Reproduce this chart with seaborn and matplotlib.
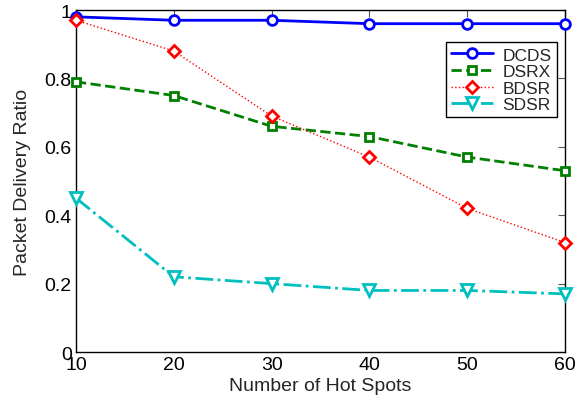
import matplotlib
matplotlib.use("Agg")
import matplotlib.pyplot as plt
import seaborn as sns
import pandas as pd

hot_spots = [10, 20, 30, 40, 50, 60]
dcds = [0.98, 0.97, 0.97, 0.96, 0.96, 0.96]
dsrx = [0.79, 0.75, 0.66, 0.63, 0.57, 0.53]
bdsr = [0.97, 0.88, 0.69, 0.57, 0.42, 0.32]
sdsr = [0.45, 0.22, 0.20, 0.18, 0.18, 0.17]
series_names = ["DCDS", "DSRX", "BDSR", "SDSR"]
x_ticks = [10, 20, 30, 40, 50, 60]
y_ticks = [0, 0.2, 0.4, 0.6, 0.8, 1]
y_tick_labels = ["0", "0.2", "0.4", "0.6", "0.8", "1"]

sns.set_theme(style="white")
plt.rcParams["font.family"] = ["Liberation Sans", "DejaVu Sans"]

fig = plt.figure(figsize=(5.77, 4.06), dpi=100)
ax = fig.add_axes([0.1317, 0.1305, 0.8475, 0.8424])

styles = {
    "DCDS": dict(color=(0, 0, 1), ls="-", marker="o", lw=2.0, ms=7),
    "DSRX": dict(color=(0, 0.5, 0), ls="--", marker="s", lw=2.0, ms=6),
    "BDSR": dict(color=(1, 0, 0), ls=":", marker="D", lw=1.0, ms=6),
    "SDSR": dict(color=(0, 0.75, 0.75), ls="-.", marker="v", lw=2.0, ms=8),
}
values = {"DCDS": dcds, "DSRX": dsrx, "BDSR": bdsr, "SDSR": sdsr}

for name in series_names:
    df = pd.DataFrame({"x": hot_spots, "y": values[name]})
    st = styles[name]
    sns.lineplot(data=df, x="x", y="y", ax=ax, color=st["color"], linestyle=st["ls"],
                 linewidth=st["lw"], marker=st["marker"], markersize=st["ms"],
                 markerfacecolor="white", markeredgecolor=st["color"], markeredgewidth=2,
                 label=name, clip_on=False, zorder=3)

ax.set_xlim(10, 60)
ax.set_ylim(0, 1)
ax.set_xticks(x_ticks)
ax.set_yticks(y_ticks)
ax.set_yticklabels(y_tick_labels)
ax.tick_params(direction="in", length=5, width=0.8, top=True, right=True,
               labelsize=14, pad=3)
ax.tick_params(axis="both", which="both", color="#555555", labelcolor="black")
for sp in ax.spines.values():
    sp.set_color("black")
    sp.set_linewidth(1.0)
ax.set_xlabel("Number of Hot Spots", fontsize=14, labelpad=3)
ax.set_ylabel("Packet Delivery Ratio", fontsize=14, labelpad=10)

leg = ax.legend(loc="upper right", bbox_to_anchor=(0.9836, 0.906), fontsize=12.5,
                frameon=True, fancybox=False, edgecolor="black", framealpha=1,
                borderpad=0.3, labelspacing=0.08, handlelength=2.4, handletextpad=0.55,
                borderaxespad=0)
leg.get_frame().set_linewidth(1.0)

fig.savefig("out.png", dpi=100)
